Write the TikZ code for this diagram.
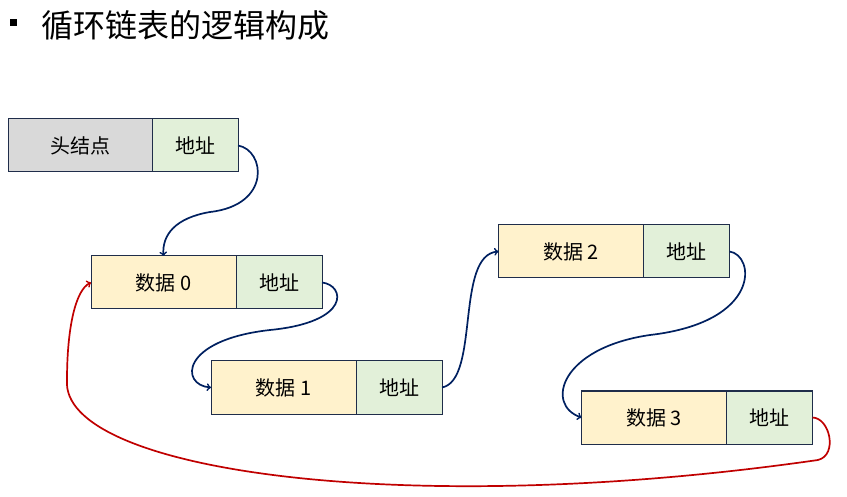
\documentclass[tikz,border=0pt]{standalone}
\usepackage{fontspec}
\newfontfamily\cjk{Noto Sans CJK SC}
\usepackage{tikz}
\usetikzlibrary{positioning}

\definecolor{boxline}{HTML}{1F2D4A}
\definecolor{linkblue}{HTML}{002060}
\definecolor{linkred}{HTML}{C00000}
\definecolor{datafill}{HTML}{FFF2CC}
\definecolor{addrfill}{HTML}{E2F0D9}
\definecolor{headfill}{HTML}{D9D9D9}

\begin{document}
\begin{tikzpicture}[x=1pt, y=-1pt, every node/.style={font=\cjk\fontsize{20}{20}\selectfont},
    datacell/.style={draw=boxline, line width=1pt, fill=datafill, minimum width=145pt, minimum height=53pt, inner sep=0pt, outer sep=0pt},
    addrcell/.style={draw=boxline, line width=1pt, fill=addrfill, minimum width=86pt, minimum height=53pt, inner sep=0pt, outer sep=0pt},
    link/.style={->, line width=1.7pt, linkblue}]
  \useasboundingbox (0,0) rectangle (847,497);

  % Titel
  \node[fill=black, minimum size=7pt, inner sep=0pt] (bullet) at (13,23) {};
  \node[anchor=west, font=\cjk\fontsize{32}{32}\selectfont] (title) at (38,25) {循环链表的逻辑构成};

  % Kopfknoten
  \node[datacell, fill=headfill, minimum width=144pt] (head) at (80,145.5) {头结点};
  \node[addrcell, right=0pt of head] (ha) {地址};

  % Datenknoten
  \node[datacell] (d0) at (163.5,282.5) {数据 0};
  \node[addrcell, right=0pt of d0] (a0) {地址};
  \node[datacell] (d1) at (283.5,387.5) {数据 1};
  \node[addrcell, right=0pt of d1] (a1) {地址};
  \node[datacell] (d2) at (571,251.5) {数据 2};
  \node[addrcell, right=0pt of d2] (a2) {地址};
  \node[datacell] (d3) at (654,417.5) {数据 3};
  \node[addrcell, right=0pt of d3] (a3) {地址};

  % Zeiger
  \draw[link] (ha.east) .. controls (265,150) and (272,205) .. (210,212) .. controls (175,218) and (162,235) .. (d0.north);
  \draw[link] (a0.east) .. controls (345,285) and (352,322) .. (270,330) .. controls (180,340) and (180,385) .. (d1.west);
  \draw[link] (a1.east) .. controls (480,380) and (455,255) .. (d2.west);
  \draw[link] (a2.east) .. controls (755,255) and (762,322) .. (650,335) .. controls (560,348) and (545,405) .. (d3.west);

  % Rueckverweis
  \draw[link, linkred] (a3.east) .. controls (830,418) and (838,455) .. (818,460) .. controls (400,520) and (60,470) .. (67,380) .. controls (67,330) and (75,290) .. (d0.west);

\end{tikzpicture}
\end{document}
